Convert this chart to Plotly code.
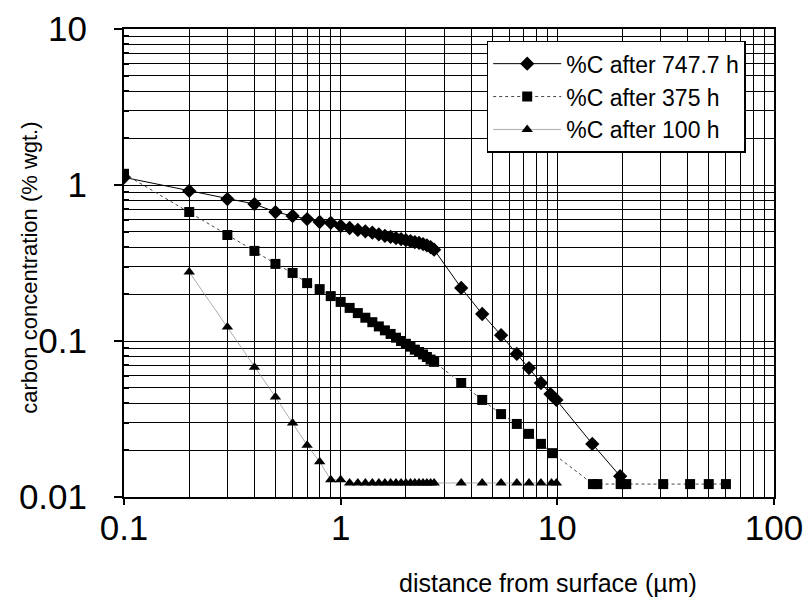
import plotly.graph_objects as go

# ---- data ----
x_748 = [0.1, 0.2, 0.3, 0.4, 0.5, 0.6, 0.7, 0.8, 0.9, 1.0, 1.1, 1.2, 1.3, 1.4, 1.5, 1.6, 1.7, 1.8,
         1.9, 2.0, 2.1, 2.2, 2.3, 2.4, 2.5, 2.6, 2.7, 3.6, 4.5, 5.5, 6.5, 7.4, 8.4, 9.3, 9.9, 14.5, 19.5]
y_748 = [1.12, 0.916, 0.813, 0.755, 0.671, 0.633, 0.605, 0.579, 0.572, 0.546, 0.53, 0.515, 0.505,
         0.495, 0.482, 0.472, 0.465, 0.457, 0.45, 0.443, 0.437, 0.43, 0.425, 0.418, 0.41, 0.40, 0.385,
         0.219, 0.149, 0.109, 0.0826, 0.0671, 0.0538, 0.0457, 0.0419, 0.0219, 0.0136]

x_375 = [0.1, 0.2, 0.3, 0.4, 0.5, 0.6, 0.7, 0.8, 0.9, 1.0, 1.1, 1.2, 1.3, 1.4, 1.5, 1.6, 1.7, 1.8,
         1.9, 2.0, 2.1, 2.2, 2.3, 2.4, 2.5, 2.6, 2.7, 3.6, 4.5, 5.5, 6.5, 7.4, 8.4, 9.5,
         14.6, 15.3, 19.6, 20.8, 30.8, 41, 50, 60]
y_375 = [1.18, 0.671, 0.478, 0.378, 0.312, 0.273, 0.235, 0.215, 0.194, 0.178, 0.163, 0.151, 0.141,
         0.132, 0.124, 0.117, 0.111, 0.105, 0.100, 0.096, 0.092, 0.088, 0.085, 0.082, 0.079, 0.076,
         0.0735, 0.0538, 0.0419, 0.034, 0.0294, 0.0254, 0.0219, 0.0191,
         0.0121, 0.0121, 0.0121, 0.0121, 0.0121, 0.0121, 0.0121, 0.0121]

x_100 = [0.2, 0.3, 0.4, 0.5, 0.6, 0.7, 0.8, 0.9, 1.0, 1.1, 1.2, 1.3, 1.4, 1.5, 1.6, 1.7, 1.8,
         1.9, 2.0, 2.1, 2.2, 2.3, 2.4, 2.5, 2.6, 2.7, 3.6, 4.5, 5.5, 6.5, 7.4, 8.4, 9.4, 9.9]
y_100 = [0.277, 0.123, 0.068, 0.0438, 0.0298, 0.0215, 0.0168, 0.0129, 0.0129, 0.0123, 0.0123,
         0.0123, 0.0123, 0.0123, 0.0123, 0.0123, 0.0123, 0.0123, 0.0123, 0.0123, 0.0123, 0.0123,
         0.0123, 0.0123, 0.0123, 0.0123, 0.0123, 0.0123, 0.0123, 0.0123, 0.0123, 0.0123, 0.0123, 0.0123]

names = ["%C after 747.7 h", "%C after 375 h", "%C after 100 h"]

x_ticks = [0.1, 1, 10, 100]
x_ticktext = ["0.1", "1", "10", "100"]
y_ticks = [0.01, 0.1, 1, 10]
y_ticktext = ["0.01", "0.1", "1", "10"]

x_title = "distance from surface (µm)"
y_title = "carbon concentration (% wgt.)"

ARIAL = "Liberation Sans, Arial, sans-serif"

def minor_vals(lo_exp, hi_exp):
    vals = []
    for e in range(lo_exp, hi_exp):
        for m in range(2, 10):
            vals.append(m * 10 ** e)
    return vals

fig = go.Figure()
fig.add_trace(go.Scatter(x=x_748, y=y_748, name=names[0], mode="lines+markers",
                         line=dict(color="black", width=1),
                         marker=dict(symbol="diamond", size=11, color="black")))
fig.add_trace(go.Scatter(x=x_375, y=y_375, name=names[1], mode="lines+markers",
                         line=dict(color="#444", width=1, dash="dot"),
                         marker=dict(symbol="square", size=10, color="black")))
fig.add_trace(go.Scatter(x=x_100, y=y_100, name=names[2], mode="lines+markers",
                         line=dict(color="#888", width=0.7),
                         marker=dict(symbol="triangle-up", size=10, color="black")))

fig.update_layout(
    width=806, height=597,
    margin=dict(l=124, r=32, t=29, b=100, autoexpand=False),
    paper_bgcolor="white", plot_bgcolor="white",
    font=dict(family=ARIAL, color="black"),
    legend=dict(x=0.558, y=0.975, xanchor="left", yanchor="top",
                bgcolor="white", bordercolor="black", borderwidth=1.5,
                font=dict(size=23, family=ARIAL), itemwidth=68,
                tracegroupgap=0),
    showlegend=True,
    annotations=[
        dict(text=x_title, xref="paper", yref="paper", x=0.652, y=-0.184,
             xanchor="center", yanchor="middle", showarrow=False,
             font=dict(size=25, family=ARIAL, color="black")),
        dict(text=y_title, xref="paper", yref="paper", x=-0.1446, y=0.49,
             xanchor="center", yanchor="middle", showarrow=False, textangle=-90,
             font=dict(size=22, family=ARIAL, color="black")),
    ],
)
fig.update_xaxes(type="log", range=[-1, 2], tickvals=x_ticks, ticktext=x_ticktext,
                 ticks="outside", ticklen=6, tickwidth=2, tickcolor="black",
                 tickfont=dict(size=35, family=ARIAL), ticklabelstandoff=-7,
                 showline=True, linecolor="black", linewidth=2, mirror=True,
                 showgrid=True, gridcolor="black", gridwidth=1.2,
                 minor=dict(tickvals=minor_vals(-1, 2), showgrid=True, gridcolor="black",
                            gridwidth=1.2, ticks=""),
                 zeroline=False, automargin=False)
fig.update_yaxes(type="log", range=[-2, 1], tickvals=y_ticks, ticktext=y_ticktext,
                 ticks="outside", ticklen=8, tickwidth=2, tickcolor="black",
                 tickfont=dict(size=35, family=ARIAL), ticklabelstandoff=20,
                 showline=True, linecolor="black", linewidth=2, mirror=True,
                 showgrid=True, gridcolor="black", gridwidth=1.2,
                 minor=dict(tickvals=minor_vals(-2, 1), showgrid=True, gridcolor="black",
                            gridwidth=1.2, ticks="inside", ticklen=5, tickcolor="black"),
                 zeroline=False, automargin=False)

fig.write_html("out.html")
